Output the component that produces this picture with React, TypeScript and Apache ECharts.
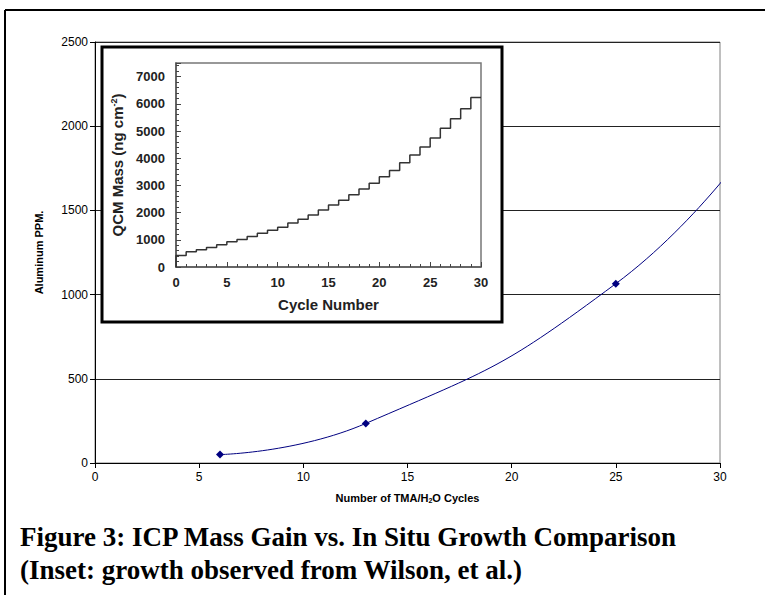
import React, { useEffect, useRef } from "react";
import * as echarts from "echarts";

// Main chart (ICP mass gain)
const icpCycles = [6, 13, 25];
const icpPPM = [50, 235, 1065];
// curve continues past the right edge of the plot (clipped)
const icpExtension = [32, 1980];

// Inset (QCM mass per cycle, plateau after each cycle)
const qcmCycles = [0, 1, 2, 3, 4, 5, 6, 7, 8, 9, 10, 11, 12, 13, 14, 15, 16, 17, 18, 19, 20, 21, 22, 23, 24, 25, 26, 27, 28, 29];
const qcmMass = [420, 560, 630, 720, 815, 925, 1010, 1120, 1240, 1350, 1460, 1620, 1755, 1915, 2095, 2280, 2450, 2660, 2865, 3075, 3315, 3550, 3830, 4120, 4415, 4745, 5100, 5450, 5815, 6230];

const mainXTicks = { min: 0, max: 30, interval: 5 };
const mainYTicks = { min: 0, max: 2500, interval: 500 };
const insetYTicks = { min: 0, max: 7500, interval: 1000 };

const titleLines = [
  "Figure 3: ICP Mass Gain vs. In Situ Growth Comparison",
  "(Inset: growth observed from Wilson, et al.)",
];

export default function App() {
  const ref = useRef<HTMLDivElement>(null);
  useEffect(() => {
    if (!ref.current) return;
    const chart = echarts.init(ref.current, null, { renderer: "svg" });
    const sans = "Liberation Sans";
    const plain = (v: number) => String(v);
    const mainData: any[] = icpCycles.map((c, i) => [c, icpPPM[i]]);
    mainData.push({ value: icpExtension, symbol: "none" });
    const qcmData: number[][] = [[0, 0]];
    qcmCycles.forEach((c, i) => qcmData.push([c, qcmMass[i]]));
    qcmData.push([30, qcmMass[qcmMass.length - 1]]);

    const option: any = {
      animation: false,
      backgroundColor: "#fff",
      grid: [
        { left: 95, top: 42, right: 45, bottom: 132, show: true, borderColor: "#808080", borderWidth: 1, z: 0 },
        { left: 176, top: 63, right: 284, bottom: 328, show: true, borderColor: "#777", borderWidth: 1.5, z: 20 },
      ],
      xAxis: [
        {
          gridIndex: 0, type: "value", ...mainXTicks,
          axisLine: { lineStyle: { color: "#000", width: 1 } },
          axisTick: { show: true, length: 5, lineStyle: { color: "#000" } },
          axisLabel: { fontFamily: sans, fontSize: 12, color: "#000", margin: 8, formatter: plain },
          splitLine: { show: false },
          name: "Number of TMA/H{sub|2}O Cycles",
          nameLocation: "middle", nameGap: 28, nameMoveOverlap: false,
          nameTextStyle: {
            fontFamily: sans, fontSize: 11, fontWeight: "bold", color: "#000",
            rich: { sub: { fontFamily: sans, fontSize: 7, fontWeight: "bold", color: "#000", padding: [6, 0, 0, 0] } },
          },
        },
        {
          gridIndex: 1, type: "value", ...mainXTicks, z: 21,
          axisLine: { lineStyle: { color: "#555", width: 1.5 } },
          axisTick: { show: true, inside: true, length: 5, lineStyle: { color: "#444" } },
          minorTick: { show: true, splitNumber: 5, length: 3, lineStyle: { color: "#444" } },
          axisLabel: { fontFamily: sans, fontSize: 13, fontWeight: "bold", color: "#222", margin: 9, formatter: plain },
          splitLine: { show: false },
          name: "Cycle Number", nameLocation: "middle", nameGap: 30, nameMoveOverlap: false,
          nameTextStyle: { fontFamily: sans, fontSize: 15, fontWeight: "bold", color: "#222" },
        },
        {
          gridIndex: 1, type: "value", ...mainXTicks, z: 21,
          axisLine: { show: false },
          axisTick: { show: true, inside: false, length: 3, lineStyle: { color: "#444" } },
          axisLabel: { show: false },
          splitLine: { show: false },
        },
      ],
      yAxis: [
        {
          gridIndex: 0, type: "value", ...mainYTicks,
          axisLine: { show: true, lineStyle: { color: "#000", width: 1 } },
          axisTick: { show: true, length: 5, lineStyle: { color: "#000" } },
          axisLabel: { fontFamily: sans, fontSize: 12, color: "#000", margin: 7, formatter: plain },
          splitLine: { show: true, lineStyle: { color: "#222", width: 1 } },
          name: "Aluminum PPM.", nameLocation: "middle", nameGap: 51, nameMoveOverlap: false,
          nameTextStyle: { fontFamily: sans, fontSize: 11, fontWeight: "bold", color: "#000" },
        },
        {
          gridIndex: 1, type: "value", ...insetYTicks, z: 21,
          axisLine: { show: true, lineStyle: { color: "#555", width: 1.5 } },
          axisTick: { show: true, inside: true, length: 5, lineStyle: { color: "#444" } },
          minorTick: { show: true, splitNumber: 5, length: 3, lineStyle: { color: "#444" } },
          axisLabel: { fontFamily: sans, fontSize: 13, fontWeight: "bold", color: "#222", margin: 11, showMaxLabel: false, formatter: plain },
          splitLine: { show: false },
          name: "QCM Mass (ng cm{sup|-2})", nameLocation: "middle", nameGap: 51, nameMoveOverlap: false,
          nameTextStyle: {
            fontFamily: sans, fontSize: 15, fontWeight: "bold", color: "#222",
            rich: { sup: { fontFamily: sans, fontSize: 9, fontWeight: "bold", color: "#222", padding: [0, 0, 7, 0] } },
          },
        },
        {
          gridIndex: 1, type: "value", ...insetYTicks, z: 21,
          axisLine: { show: false },
          axisTick: { show: true, inside: false, length: 4, lineStyle: { color: "#444" } },
          axisLabel: { show: false },
          splitLine: { show: false },
        },
      ],
      series: [
        {
          type: "line", xAxisIndex: 0, yAxisIndex: 0, data: mainData,
          smooth: 0.5, clip: true,
          symbol: "diamond", symbolSize: 8,
          lineStyle: { color: "#000080", width: 1 },
          itemStyle: { color: "#000080" },
          z: 2,
        },
        {
          type: "line", xAxisIndex: 1, yAxisIndex: 1, data: qcmData,
          step: "end", showSymbol: false, symbol: "none",
          lineStyle: { color: "#333", width: 1.5 },
          z: 22,
        },
      ],
      graphic: {
        elements: [
          { type: "line", shape: { x1: 5, y1: 10, x2: 765, y2: 10 }, style: { stroke: "#000", lineWidth: 2 }, z: 1 },
          { type: "line", shape: { x1: 5, y1: 10, x2: 5, y2: 595 }, style: { stroke: "#000", lineWidth: 2 }, z: 1 },
          { type: "rect", shape: { x: 102, y: 47, width: 400, height: 275 }, style: { fill: "#fff", stroke: "#000", lineWidth: 3 }, z: 10 },
          { type: "text", x: 20, y: 537, style: { text: titleLines[0], font: "bold 27px 'Liberation Serif'", fill: "#000", verticalAlign: "middle" }, z: 10 },
          { type: "text", x: 20, y: 570, style: { text: titleLines[1], font: "bold 27px 'Liberation Serif'", fill: "#000", verticalAlign: "middle" }, z: 10 },
        ],
      },
    };
    chart.setOption(option);
    return () => chart.dispose();
  }, []);
  return <div ref={ref} style={{ position: "fixed", left: 0, top: 0, width: 765, height: 595 }} />;
}
